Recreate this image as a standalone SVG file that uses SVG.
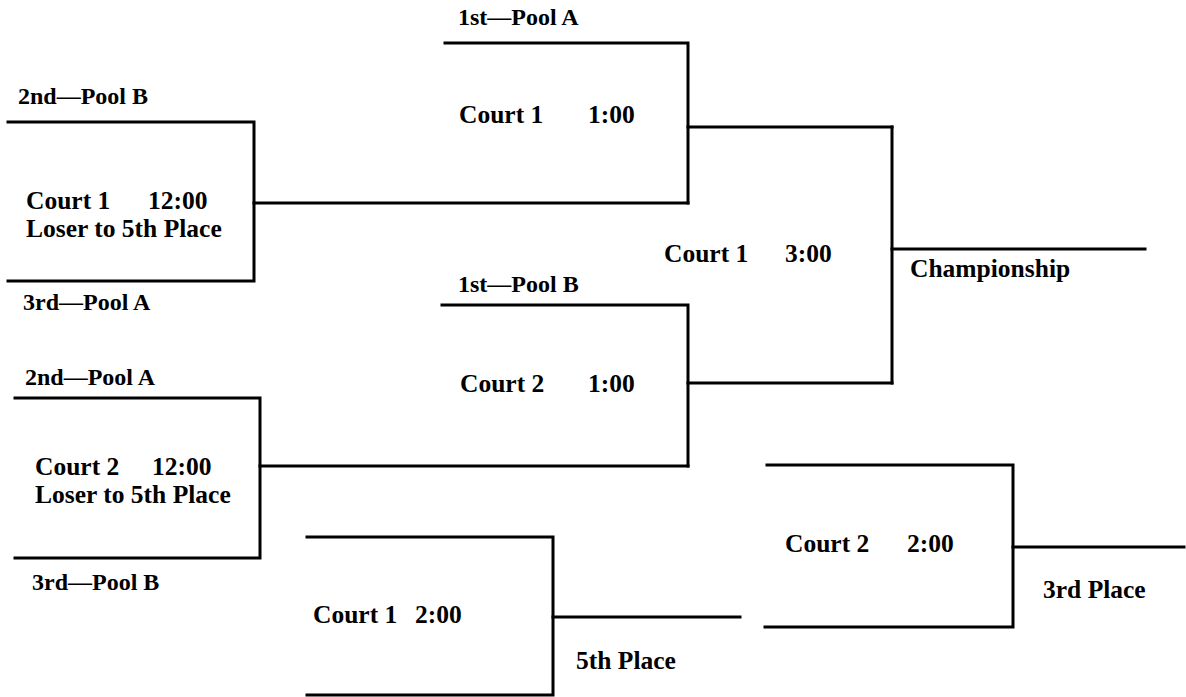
<svg xmlns="http://www.w3.org/2000/svg" width="1186" height="697" viewBox="0 0 1186 697">
<style>
.ln{fill:none;stroke:#000;stroke-width:3;stroke-linecap:square}
.t{font-family:"Liberation Serif","Times New Roman",serif;font-weight:bold;font-size:25.5px;fill:#000}
.p{font-size:24px}
</style>
<rect width="1186" height="697" fill="#fff"/>
<g id="connectors">
<path class="ln" d="M254,203 H688"/>
<path class="ln" d="M688,127 H892"/>
<path class="ln" d="M260,466 H688"/>
<path class="ln" d="M688,383 H892"/>
<path class="ln" d="M892,249 H1145"/>
<path class="ln" d="M553,617 H740"/>
<path class="ln" d="M1013,547 H1184"/>
</g>
<g id="match-c1-1200">
<path class="ln" d="M8,122 H254 V281 H8"/>
<text class="t p" x="18" y="104">2nd—Pool B</text>
<text class="t" x="26" y="209">Court 1</text>
<text class="t" x="148" y="209">12:00</text>
<text class="t" x="26" y="237">Loser to 5th Place</text>
<text class="t p" x="23" y="310">3rd—Pool A</text>
</g>
<g id="match-c1-100">
<path class="ln" d="M445,43 H688 V203"/>
<text class="t p" x="458" y="25">1st—Pool A</text>
<text class="t" x="459" y="123">Court 1</text>
<text class="t" x="588" y="123">1:00</text>
</g>
<g id="match-c2-1200">
<path class="ln" d="M15,398 H260 V558 H15"/>
<text class="t p" x="25" y="385">2nd—Pool A</text>
<text class="t" x="35" y="475">Court 2</text>
<text class="t" x="152" y="475">12:00</text>
<text class="t" x="35" y="503">Loser to 5th Place</text>
<text class="t p" x="32" y="590">3rd—Pool B</text>
</g>
<g id="match-c2-100">
<path class="ln" d="M442,305 H688 V466"/>
<text class="t p" x="458" y="292">1st—Pool B</text>
<text class="t" x="460" y="392">Court 2</text>
<text class="t" x="588" y="392">1:00</text>
</g>
<g id="match-c1-300">
<path class="ln" d="M892,127 V383"/>
<text class="t" x="664" y="262">Court 1</text>
<text class="t" x="785" y="262">3:00</text>
<text class="t" x="910" y="277">Championship</text>
</g>
<g id="match-c1-200">
<path class="ln" d="M307,537 H553 V695 H307"/>
<text class="t" x="313" y="623">Court 1</text>
<text class="t" x="415" y="623">2:00</text>
<text class="t" x="576" y="669">5th Place</text>
</g>
<g id="match-c2-200">
<path class="ln" d="M767,465 H1013 V627 H765"/>
<text class="t" x="785" y="552">Court 2</text>
<text class="t" x="907" y="552">2:00</text>
<text class="t" x="1043" y="598">3rd Place</text>
</g>
</svg>
